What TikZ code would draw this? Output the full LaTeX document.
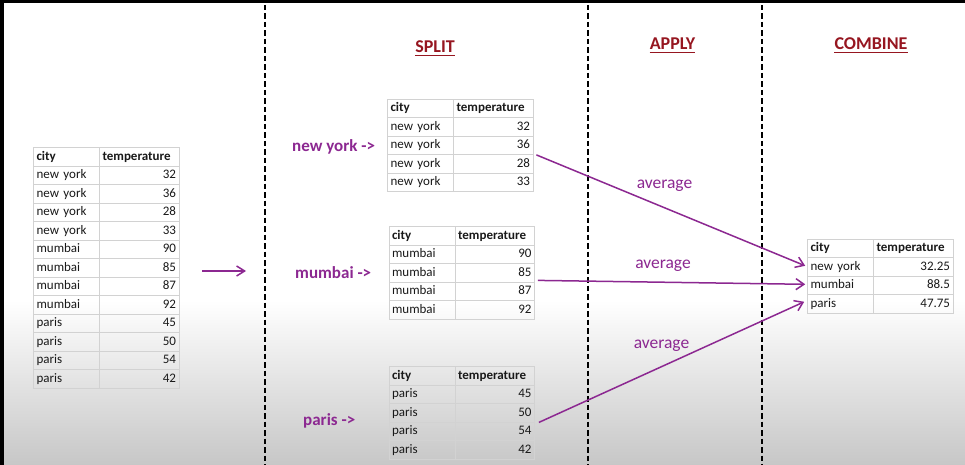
\documentclass[tikz,border=0pt]{standalone}
\usepackage{fontspec}
\setmainfont{Carlito}
\usetikzlibrary{matrix,arrows.meta,calc}
\definecolor{hdred}{RGB}{150,22,32}
\definecolor{purp}{RGB}{140,40,145}
\definecolor{cellgray}{RGB}{210,210,210}
\newcommand{\tfont}{\fontsize{13}{15}\selectfont}
\tikzset{
  cell/.style={draw=cellgray, line width=0.7pt, minimum height=18.5pt, inner xsep=3pt, inner ysep=0pt,
    text height=9.5pt, text depth=3pt, font=\tfont, text=black!90},
  hdl/.style={font=\tfont\bfseries, align=left},
  tbl/.style={matrix of nodes, inner sep=0pt, row sep=-0.7pt, column sep=-0.7pt, nodes={cell},
    column 1/.style={nodes={text width=60pt, align=left}},
    column 2/.style={nodes={text width=73.5pt, align=right}}},
  heading/.style={font=\fontsize{18}{20}\selectfont\bfseries, text=hdred, anchor=base, inner sep=0pt},
  uline/.style={draw=hdred, line width=1.4pt},
  grp/.style={font=\fontsize{17}{20}\selectfont\bfseries, text=purp, anchor=base west, inner sep=0pt},
  avg/.style={font=\fontsize{17.5}{20}\selectfont, text=purp, anchor=base, inner sep=0pt},
  conn/.style={draw=purp, line width=1.5pt, -{Straight Barb[length=8pt,width=11pt]}},
  divider/.style={draw=black, line width=2pt, dash pattern=on 5.5pt off 3pt}
}
\begin{document}
\begin{tikzpicture}[x=1pt,y=-1pt]
\useasboundingbox (0,0) rectangle (965,465);
% background
\fill[white] (0,0) rectangle (965,465);
\shade[top color=white, bottom color=black!22] (0,300) rectangle (965,465);
\fill[black] (0,0) rectangle (965,3);
\fill[black] (0,0) rectangle (4,465);

% dividers
\draw[divider] (265,5) -- (265,465);
\draw[divider] (588,5) -- (588,465);
\draw[divider] (762,5) -- (762,465);

% headings
\node[heading] (split) at (435,52.5) {SPLIT};
\node[heading] (apply) at (672.5,50) {APPLY};
\node[heading] (combine) at (871,50) {COMBINE};
\draw[uline] ($(split.base west)+(0,2.8)$) -- ($(split.base east)+(0,2.8)$);
\draw[uline] ($(apply.base west)+(0,2.8)$) -- ($(apply.base east)+(0,2.8)$);
\draw[uline] ($(combine.base west)+(0,2.8)$) -- ($(combine.base east)+(0,2.8)$);

% original table
\matrix (orig) [tbl, anchor=north west] at (33,147) {
|[hdl]| city & |[hdl]| temperature \\
new york & 32 \\
new york & 36 \\
new york & 28 \\
new york & 33 \\
mumbai & 90 \\
mumbai & 85 \\
mumbai & 87 \\
mumbai & 92 \\
paris & 45 \\
paris & 50 \\
paris & 54 \\
paris & 42 \\
};

% split tables
\matrix (ny) [tbl, anchor=north west] at (387,98.5) {
|[hdl]| city & |[hdl]| temperature \\
new york & 32 \\
new york & 36 \\
new york & 28 \\
new york & 33 \\
};
\matrix (mb) [tbl, anchor=north west] at (388.5,226) {
|[hdl]| city & |[hdl]| temperature \\
mumbai & 90 \\
mumbai & 85 \\
mumbai & 87 \\
mumbai & 92 \\
};
\matrix (pa) [tbl, anchor=north west] at (388.5,366) {
|[hdl]| city & |[hdl]| temperature \\
paris & 45 \\
paris & 50 \\
paris & 54 \\
paris & 42 \\
};

% combined table
\matrix (cmb) [tbl, anchor=north west] at (807,238.5) {
|[hdl]| city & |[hdl]| temperature \\
new york & 32.25 \\
mumbai & 88.5 \\
paris & 47.75 \\
};

% group labels
\node[grp] (lny) at (292,151.5) {new york ->};
\node[grp] (lmb) at (295,278) {mumbai ->};
\node[grp] (lpa) at (303,425) {paris ->};

% left arrow
\coordinate (la1) at (202,271);
\coordinate (la2) at (246,271);
\draw[conn, -{Straight Barb[length=8pt,width=10pt]}] (la1) -- (la2);

% apply arrows
\coordinate (s1) at ($(ny-3-2.south east)+(3,0)$);
\coordinate (s2) at ($(mb-3-2.south east)+(3,-2)$);
\coordinate (s3) at ($(pa-3-2.south east)+(4,0)$);
\coordinate (e1) at ($(cmb-2-1.west)+(-2,-1)$);
\coordinate (e2) at ($(cmb-3-1.west)+(-2,-1)$);
\coordinate (e3) at ($(cmb-4-1.west)+(-3,-2)$);
\draw[conn] (s1) -- (e1);
\draw[conn] (s2) -- (e2);
\draw[conn] (s3) -- (e3);

\node[avg] (a1) at (664.5,188.5) {average};
\node[avg] (a2) at (663,268.5) {average};
\node[avg] (a3) at (661.5,348.5) {average};
\end{tikzpicture}
\end{document}
